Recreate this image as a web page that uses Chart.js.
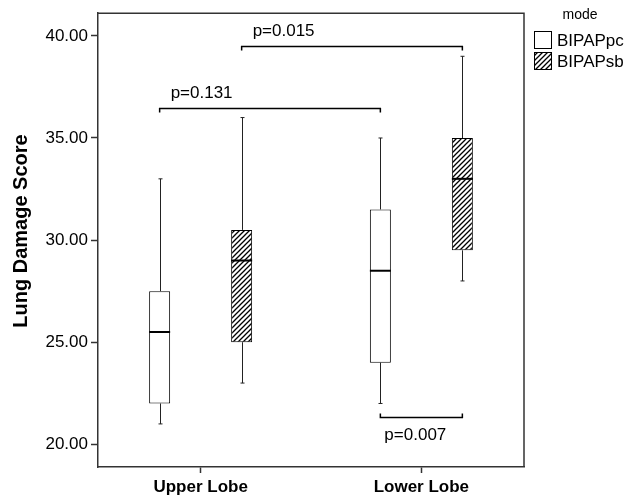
<!DOCTYPE html>
<html lang="en">
<head>
<meta charset="UTF-8">
<title>Lung Damage Score</title>
<script src="https://cdn.jsdelivr.net/npm/chart.js"></script>
<style>
  body { margin: 0; background: #fff; }
  .wrap { position: relative; width: 633px; height: 499px; }
</style>
</head>
<body>
<div class="wrap"><canvas id="chart"></canvas></div>
<script>
// categories and groups
var lobes = ['Upper Lobe', 'Lower Lobe'];
var modes = ['BIPAPpc', 'BIPAPsb'];

// box plot summaries, one value per lobe
var pcMin = [21, 22];
var pcQ1 = [22, 24];
var pcMedian = [25.5, 28.5];
var pcQ3 = [27.5, 31.5];
var pcMax = [33, 35];

var sbMin = [23, 28];
var sbQ1 = [25, 29.5];
var sbMedian = [29, 33];
var sbQ3 = [30.5, 35];
var sbMax = [36, 39];

var yTicks = [20, 25, 30, 35, 40];

// significance brackets: [mode, lobe] at each end, height of the bar
var pLabels = ['p=0.131', 'p=0.015', 'p=0.007'];
var pFrom = [[0, 0], [1, 0], [0, 1]];
var pTo = [[0, 1], [1, 1], [1, 1]];
var pLevel = [36.45, 39.5, 21.32];

var FONT = "'Liberation Sans', Arial, sans-serif";

function hatch() {
    var c = document.createElement('canvas');
    c.width = 5; c.height = 5;
    var g = c.getContext('2d');
    g.fillStyle = '#fff';
    g.fillRect(0, 0, 5, 5);
    g.strokeStyle = '#000';
    g.lineWidth = 1.3;
    g.beginPath();
    g.moveTo(-1, 1); g.lineTo(1, -1);
    g.moveTo(0, 5); g.lineTo(5, 0);
    g.moveTo(4, 6); g.lineTo(6, 4);
    g.stroke();
    return g.createPattern(c, 'repeat');
}
var hatchFill = hatch();

function boxes(q1, q3) {
    return q1.map(function (v, i) { return [v, q3[i]]; });
}

var stats = [
    { min: pcMin, q1: pcQ1, med: pcMedian, q3: pcQ3, max: pcMax },
    { min: sbMin, q1: sbQ1, med: sbMedian, q3: sbQ3, max: sbMax }
];

var boxExtras = {
    id: 'boxExtras',
    afterDatasetsDraw: function (chart) {
        var ctx = chart.ctx;
        var y = chart.scales.y;
        var area = chart.chartArea;
        ctx.save();

        // whiskers and medians
        stats.forEach(function (s, di) {
            var meta = chart.getDatasetMeta(di);
            meta.data.forEach(function (bar, i) {
                var x = Math.round(bar.x) + 0.5;
                var half = bar.width / 2;
                ctx.strokeStyle = '#222';
                ctx.lineWidth = 1;
                ctx.beginPath();
                ctx.moveTo(x, y.getPixelForValue(s.q3[i]));
                ctx.lineTo(x, y.getPixelForValue(s.max[i]));
                ctx.moveTo(x, y.getPixelForValue(s.q1[i]));
                ctx.lineTo(x, y.getPixelForValue(s.min[i]));
                ctx.moveTo(x - 2, y.getPixelForValue(s.max[i]));
                ctx.lineTo(x + 2, y.getPixelForValue(s.max[i]));
                ctx.moveTo(x - 2, y.getPixelForValue(s.min[i]));
                ctx.lineTo(x + 2, y.getPixelForValue(s.min[i]));
                ctx.stroke();

                ctx.strokeStyle = '#000';
                ctx.lineWidth = 2;
                ctx.beginPath();
                ctx.moveTo(bar.x - half, y.getPixelForValue(s.med[i]));
                ctx.lineTo(bar.x + half, y.getPixelForValue(s.med[i]));
                ctx.stroke();
            });
        });

        // p value brackets
        ctx.font = '17px ' + FONT;
        ctx.fillStyle = '#000';
        ctx.textBaseline = 'middle';
        ctx.textAlign = 'left';
        pLabels.forEach(function (lab, k) {
            var a = chart.getDatasetMeta(pFrom[k][0]).data[pFrom[k][1]];
            var b = chart.getDatasetMeta(pTo[k][0]).data[pTo[k][1]];
            var py = Math.round(y.getPixelForValue(pLevel[k])) + 0.5;
            var below = pLevel[k] < 25;
            var tick = below ? -4 : 4;
            ctx.strokeStyle = '#000';
            ctx.lineWidth = 1.5;
            ctx.beginPath();
            ctx.moveTo(a.x, py + tick);
            ctx.lineTo(a.x, py);
            ctx.lineTo(b.x, py);
            ctx.lineTo(b.x, py + tick);
            ctx.stroke();
            ctx.fillText(lab, a.x + (below ? 4 : 11), below ? py + 18 : py - 15);
        });

        // frame top and right
        ctx.strokeStyle = '#333';
        ctx.lineWidth = 1.5;
        ctx.beginPath();
        ctx.moveTo(area.left, area.top);
        ctx.lineTo(area.right, area.top);
        ctx.lineTo(area.right, area.bottom);
        ctx.stroke();

        // y axis title
        ctx.save();
        ctx.translate(21, 231);
        ctx.rotate(-Math.PI / 2);
        ctx.textAlign = 'center';
        ctx.font = 'bold 20px ' + FONT;
        ctx.fillText('Lung Damage Score', 0, 0);
        ctx.restore();

        // legend
        ctx.textAlign = 'center';
        ctx.font = '14px ' + FONT;
        ctx.fillText('mode', 580, 15);
        ctx.textAlign = 'left';
        ctx.font = '17px ' + FONT;
        modes.forEach(function (m, i) {
            var top = 31 + i * 21;
            ctx.fillStyle = i === 0 ? '#fff' : hatchFill;
            ctx.fillRect(534, top, 17, 17);
            ctx.strokeStyle = '#000';
            ctx.lineWidth = 1;
            ctx.strokeRect(534.5, top + 0.5, 17, 17);
            ctx.fillStyle = '#000';
            ctx.fillText(m, 557, top + 10);
        });
        ctx.restore();
    }
};

new Chart(document.getElementById('chart'), {
    type: 'bar',
    data: {
        labels: lobes,
        datasets: [
            {
                label: modes[0],
                data: boxes(pcQ1, pcQ3),
                backgroundColor: '#fff',
                borderColor: '#000',
                borderWidth: 1,
                borderSkipped: false
            },
            {
                label: modes[1],
                data: boxes(sbQ1, sbQ3),
                backgroundColor: hatchFill,
                borderColor: '#000',
                borderWidth: 1,
                borderSkipped: false
            }
        ]
    },
    options: {
        responsive: true,
        maintainAspectRatio: false,
        animation: false,
        categoryPercentage: 0.743,
        barPercentage: 0.256,
        layout: { padding: { top: 8, right: 109, left: 0, bottom: 0 } },
        plugins: {
            legend: { display: false },
            tooltip: { enabled: false }
        },
        scales: {
            x: {
                grid: { offset: false, drawOnChartArea: false, tickLength: 6, tickColor: '#333', tickWidth: 1.5 },
                border: { color: '#333', width: 1.5 },
                ticks: { color: '#000', padding: 4, font: { family: FONT, size: 17, weight: 'bold' } },
                afterBuildTicks: function (scale) {
                    // pull the two groups a little further apart than the default half-slot offset
                    scale._startValue = -0.465;
                    scale._valueRange = 1.93;
                },
                afterFit: function (scale) { scale.height = 32; }
            },
            y: {
                min: 18.89,
                max: 41.11,
                grid: { drawOnChartArea: false, tickLength: 7, tickColor: '#333', tickWidth: 1.5 },
                border: { color: '#333', width: 1.5 },
                ticks: {
                    color: '#000',
                    padding: 3,
                    font: { family: FONT, size: 17 },
                    callback: function (v) { return v.toFixed(2); }
                },
                afterBuildTicks: function (scale) {
                    scale.ticks = yTicks.map(function (v) { return { value: v }; });
                },
                afterFit: function (scale) { scale.width = 98; }
            }
        }
    },
    plugins: [boxExtras]
});
</script>
</body>
</html>
